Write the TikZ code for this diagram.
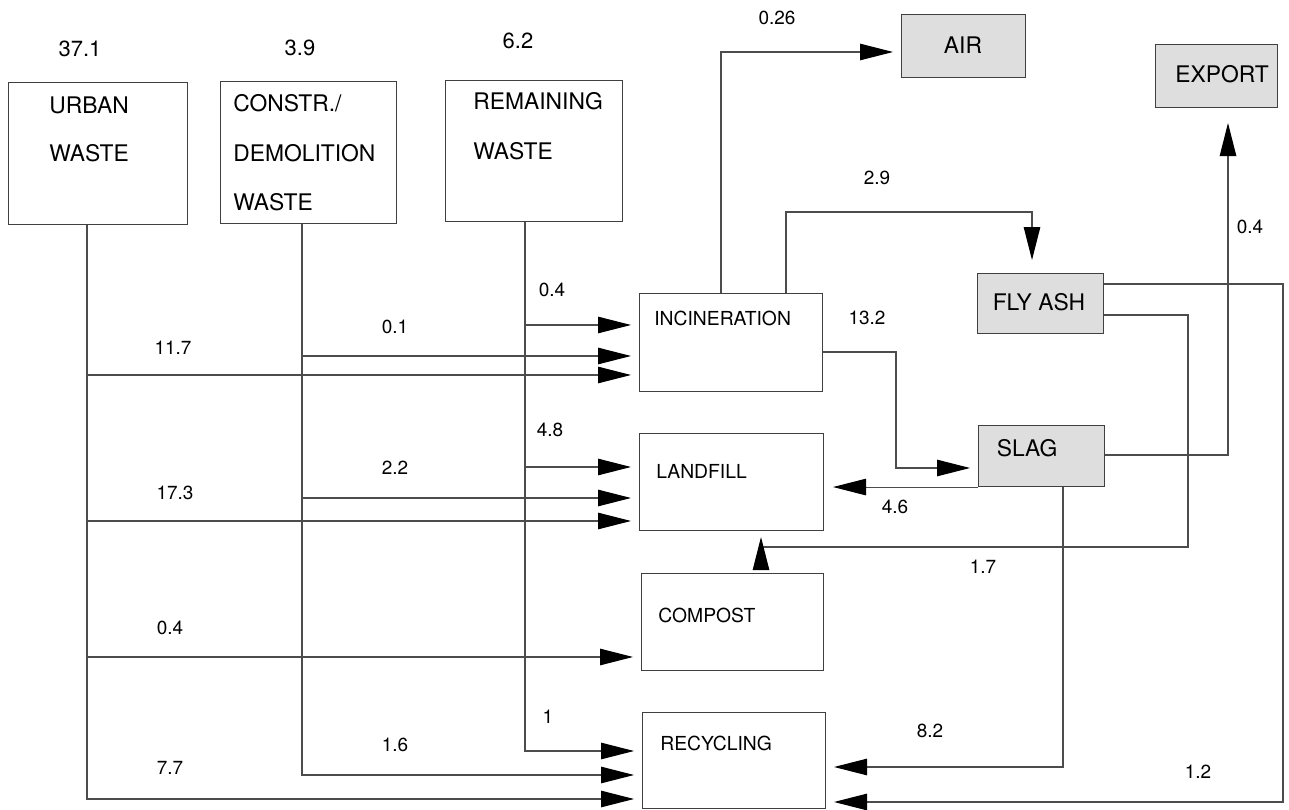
\documentclass[tikz,border=0pt]{standalone}
\usepackage{fontspec}
\setmainfont{TeX Gyre Heros}
\usetikzlibrary{arrows.meta}
\begin{document}
\begin{tikzpicture}[x=0.02cm,y=-0.02cm,
  box/.style={draw=black!75, line width=0.6pt, anchor=north west, inner sep=0pt},
  shadedbox/.style={box, fill=black!13},
  ln/.style={draw=black!70, line width=0.6pt},
  arr/.style={ln, -{Triangle[length=0.66cm,width=0.33cm,color=black]}, shorten >=0.16cm},
  big/.style={font=\fontsize{13}{15}\selectfont, inner sep=0pt},
  mid/.style={font=\fontsize{11}{13}\selectfont, inner sep=0pt},
  num/.style={font=\fontsize{10.8}{13}\selectfont, inner sep=0pt},
  topnum/.style={font=\fontsize{12.5}{15}\selectfont, inner sep=0pt},
]
\useasboundingbox (0,0) rectangle (1289,810);

% source boxes
\node[box, minimum width=3.58cm, minimum height=2.84cm] (urban) at (8,82) {};
\node[box, minimum width=3.52cm, minimum height=2.84cm] (constr) at (220,81) {};
\node[box, minimum width=3.54cm, minimum height=2.82cm] (remain) at (445,80) {};
\node[big, anchor=west] (urban-t1) at (49,105) {URBAN};
\node[big, anchor=west] (urban-t2) at (49,153) {WASTE};
\node[big, anchor=west] (constr-t1) at (233,103) {CONSTR./};
\node[big, anchor=west] (constr-t2) at (233,153) {DEMOLITION};
\node[big, anchor=west] (constr-t3) at (233,202) {WASTE};
\node[big, anchor=west] (remain-t1) at (473,101) {REMAINING};
\node[big, anchor=west] (remain-t2) at (473,151) {WASTE};
\node[topnum] (n371) at (80,49) {37.1};
\node[topnum] (n39) at (300,48) {3.9};
\node[topnum] (n62) at (518,41) {6.2};

% process boxes
\node[box, minimum width=3.66cm, minimum height=1.96cm] (incin) at (639,293) {};
\node[box, minimum width=3.68cm, minimum height=1.94cm] (landfill) at (639,433) {};
\node[box, minimum width=3.64cm, minimum height=1.94cm] (compost) at (641,573) {};
\node[box, minimum width=3.66cm, minimum height=1.92cm] (recyc) at (642,712) {};
\node[mid, anchor=west] (incin-t) at (654,318) {INCINERATION};
\node[mid, anchor=west] (landfill-t) at (656,471) {LANDFILL};
\node[mid, anchor=west] (compost-t) at (658,615) {COMPOST};
\node[mid, anchor=west] (recyc-t) at (660,743) {RECYCLING};

% output boxes
\node[shadedbox, minimum width=2.48cm, minimum height=1.26cm] (air) at (901,14) {};
\node[shadedbox, minimum width=2.44cm, minimum height=1.26cm] (export) at (1155,44) {};
\node[shadedbox, minimum width=2.52cm, minimum height=1.2cm] (flyash) at (977,273) {};
\node[shadedbox, minimum width=2.52cm, minimum height=1.22cm] (slag) at (978,425) {};
\node[big] (air-t) at (963,45) {AIR};
\node[big] (export-t) at (1222,74) {EXPORT};
\node[big] (flyash-t) at (1039,302) {FLY ASH};
\node[big] (slag-t) at (1027,448) {SLAG};

% urban waste flows
\draw[arr] (urban.south -| 87,0) -- (87,799) -- (recyc.west |- 0,799);
\draw[arr] (87,375) -- (incin.west |- 0,375);
\draw[arr] (87,521) -- (landfill.west |- 0,521);
\draw[arr] (87,657) -- (compost.west |- 0,657);
\node[num] (l117) at (173,348) {11.7};
\node[num] (l173) at (175,493) {17.3};
\node[num] (l04a) at (170,628) {0.4};
\node[num] (l77) at (170,768) {7.7};

% construction waste flows
\draw[arr] (constr.south -| 302,0) -- (302,775) -- (recyc.west |- 0,775);
\draw[arr] (302,356) -- (incin.west |- 0,356);
\draw[arr] (302,498) -- (landfill.west |- 0,498);
\node[num] (l01) at (395,327) {0.1};
\node[num] (l22) at (395,468) {2.2};
\node[num] (l16) at (395,745) {1.6};

% remaining waste flows
\draw[arr] (remain.south -| 525,0) -- (525,751) -- (recyc.west |- 0,751);
\draw[arr] (525,325) -- (incin.west |- 0,325);
\draw[arr] (525,467) -- (landfill.west |- 0,467);
\node[num] (l04b) at (552,290) {0.4};
\node[num] (l48) at (550,430) {4.8};
\node[num] (l1) at (548,717) {1};

% incineration outputs
\draw[arr] (incin.north -| 721,0) -- (721,52) -- (air.west |- 0,52);
\node[num] (l026) at (777,18) {0.26};
\draw[arr, shorten >=0.26cm] (incin.north -| 786,0) -- (786,212) -- (1032,212) -- (flyash.north -| 1032,0);
\node[num] (l29) at (877,178) {2.9};
\draw[arr] (incin.east |- 0,352) -- (896,352) -- (896,468) -- (slag.west |- 0,468);
\node[num] (l132) at (867,318) {13.2};

% slag outputs
\draw[arr, shorten >=0.18cm] (slag.south west) -- (landfill.east |- slag.south west);
\node[num] (l46) at (895,507) {4.6};
\draw[arr, shorten >=0.3cm] (slag.east |- 0,455) -- (1228,455) -- (export.south -| 1228,0);
\node[num] (l04c) at (1250,227) {0.4};
\draw[arr] (slag.south -| 1063,0) -- (1063,767) -- (recyc.east |- 0,767);
\node[num] (l82) at (930,731) {8.2};

% fly ash outputs
\draw[arr, shorten >=0.12cm] (flyash.east |- 0,315) -- (1188,315) -- (1188,547) -- (761,547) -- (landfill.south -| 761,0);
\node[num] (l17) at (983,567) {1.7};
\draw[arr] (flyash.east |- 0,284) -- (1283,284) -- (1283,802) -- (recyc.east |- 0,802);
\node[num] (l12) at (1198,772) {1.2};
\end{tikzpicture}
\end{document}
